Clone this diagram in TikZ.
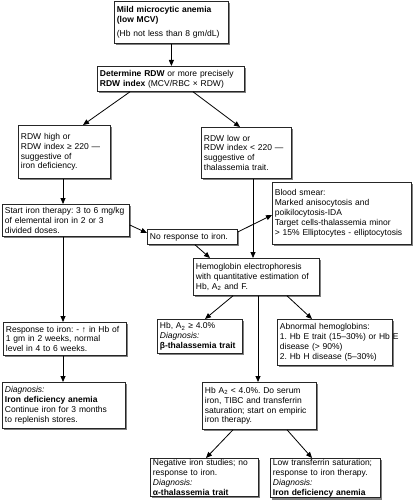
\documentclass[tikz,border=0pt]{standalone}
\usepackage{fontspec}
\setmainfont{Liberation Sans}
\frenchspacing
\usetikzlibrary{shadows,calc,arrows.meta}
\tikzset{
 bx/.style={draw=black!85, line width=0.8pt, fill=white,
   drop shadow={shadow xshift=2pt,shadow yshift=-2pt,fill=black!50,opacity=1},
   anchor=north west, align=left, inner xsep=2.5pt, inner ysep=0.8pt,
   font=\fontsize{8.5}{9.9}\selectfont},
 arr/.style={-{Triangle[length=6pt,width=5pt]}, line width=0.8pt},
}
\begin{document}
\begin{tikzpicture}[x=1pt,y=-1pt]
\useasboundingbox (0,0) rectangle (414,500);
% boxes
\node[bx,text width=109pt,minimum height=42pt] (mild) at (114,1)
 {\textbf{Mild microcytic anemia}\\\textbf{(low MCV)}\\[5pt](Hb not less than 8 gm/dL)};
\node[bx,text width=142pt,minimum height=25pt] (rdw) at (97,66)
 {\textbf{Determine RDW} or more precisely\\\textbf{RDW index} (MCV/RBC × RDW)};
\node[bx,text width=87pt,minimum height=53pt] (high) at (18,125)
 {RDW high or\\RDW index ≥ 220 —\\suggestive of\\iron deficiency.};
\node[bx,text width=85pt,minimum height=51pt] (low) at (201,127)
 {RDW low or\\RDW index < 220 —\\suggestive of\\thalassemia trait.};
\node[bx,text width=122pt,minimum height=32pt] (start) at (2,204)
 {Start iron therapy: 3 to 6 mg/kg\\of elemental iron in 2 or 3\\divided doses.};
\node[bx,text width=85pt,minimum height=15pt] (noresp) at (147,229)
 {No response to iron.};
\node[bx,text width=134pt,minimum height=62pt] (smear) at (272,182)
 {Blood smear:\\Marked anisocytosis and\\poikilocytosis-IDA\\Target cells-thalassemia minor\\> 15\% Elliptocytes - elliptocytosis};
\node[bx,text width=121pt,minimum height=37pt] (hemo) at (193,258)
 {Hemoglobin electrophoresis\\with quantitative estimation of\\Hb, A\textsubscript{2} and F.};
\node[bx,text width=80pt,minimum height=34pt] (beta) at (157,319)
 {Hb, A\textsubscript{2} ≥ 4.0\%\\\textit{Diagnosis:}\\\textbf{β-thalassemia trait}};
\node[bx,text width=110pt,minimum height=46pt] (abn) at (277,319)
 {Abnormal hemoglobins:\\\mbox{1. Hb E trait (15–30\%) or Hb E}\\disease (> 90\%)\\2. Hb H disease (5–30\%)};
\node[bx,text width=118pt,minimum height=33pt] (resp) at (3,322)
 {Response to iron: - ↑ in Hb of\\1 gm in 2 weeks, normal\\level in 4 to 6 weeks.};
\node[bx,text width=118pt,minimum height=46pt] (ida) at (2,382)
 {\textit{Diagnosis:}\\\textbf{Iron deficiency anemia}\\Continue iron for 3 months\\to replenish stores.};
\node[bx,text width=109pt,minimum height=47pt] (a2low) at (202,382)
 {Hb A\textsubscript{2} < 4.0\%. Do serum\\iron, TIBC and transferrin\\saturation; start on empiric\\iron therapy.};
\node[bx,text width=103pt,minimum height=38pt] (alpha) at (150,458)
 {Negative iron studies; no\\response to iron.\\\textit{Diagnosis:}\\\textbf{α-thalassemia trait}};
\node[bx,text width=105pt,minimum height=38pt] (lowtf) at (270,458)
 {Low transferrin saturation;\\response to iron therapy.\\\textit{Diagnosis:}\\\textbf{Iron deficiency anemia}};
% connectors
\draw[arr] (mild.south) -- (mild.south |- rdw.north);
\draw[arr] ($(rdw.south west)+(33,0)$) -- ($(high.north west)+(65,0)$);
\draw[arr] ($(rdw.south west)+(96,0)$) -- ($(low.north west)+(39,0)$);
\draw[arr] ($(high.south west)+(45,0)$) -- ($(start.north west)+(61,0)$);
\draw[arr] ($(start.north east)+(0,21)$) -- ($(noresp.north west)+(0,4)$);
\draw[arr] ($(noresp.north east)+(0,3)$) -- ($(smear.north west)+(0,33)$);
\draw[arr] ($(low.south west)+(52,0)$) -- ($(hemo.north west)+(60,0)$);
\draw[arr] ($(noresp.south west)+(48,0)$) -- ($(hemo.north west)+(17,0)$);
\draw[arr] ($(start.south west)+(61,0)$) -- ($(resp.north west)+(60,0)$);
\draw[arr] ($(resp.south west)+(60,0)$) -- ($(ida.north west)+(61,0)$);
\draw[arr] ($(hemo.south west)+(40,0)$) -- ($(beta.north west)+(48,0)$);
\draw[arr] ($(hemo.south west)+(94,0)$) -- ($(abn.north west)+(35,0)$);
\draw[arr] ($(hemo.south west)+(65,0)$) -- ($(a2low.north west)+(56,0)$);
\draw[arr] ($(a2low.south west)+(31,0)$) -- ($(alpha.north west)+(56,0)$);
\draw[arr] ($(a2low.south west)+(85,0)$) -- ($(lowtf.north west)+(42,0)$);
\end{tikzpicture}
\end{document}
